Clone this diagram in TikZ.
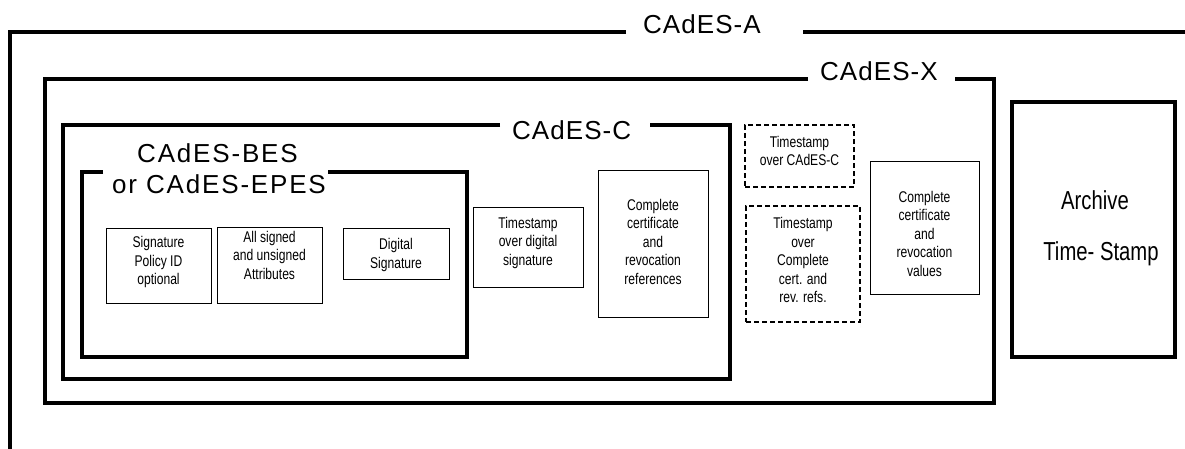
\documentclass[tikz,border=0pt]{standalone}
\usepackage{fontspec}
\setmainfont{Liberation Sans}
\newfontfamily\bigfont[LetterSpace=4]{Liberation Sans}
\newfontfamily\besfont[LetterSpace=7]{Liberation Sans}
\newfontfamily\narrowfont[FakeStretch=0.78]{Liberation Sans}
\begin{document}
\begin{tikzpicture}[x=1pt,y=-1pt,
  frame/.style={line width=3.3pt,line join=miter},
  besframe/.style={line width=4pt,line join=miter},
  biglabel/.style={anchor=base west,inner sep=0pt,font=\bigfont\fontsize{26}{30}\selectfont},
  beslabel/.style={anchor=base west,inner sep=0pt,font=\besfont\fontsize{26}{30}\selectfont},
  smallbox/.style={draw,line width=1pt,inner sep=0pt},
  dashbox/.style={draw,line width=2pt,dash pattern=on 5pt off 3pt,inner sep=0pt},
  smalltext/.style={align=center,inner sep=0pt,font=\narrowfont\fontsize{15.5}{18.5}\selectfont},
  archbox/.style={draw,line width=4pt,inner sep=0pt,line join=miter},
  archtext/.style={align=center,inner sep=0pt,font=\narrowfont\fontsize{26}{51}\selectfont}]
\useasboundingbox (0,0) rectangle (1185,448);

% CAdES-A frame
\coordinate (a1) at (626,32);
\coordinate (a2) at (10,32);
\coordinate (a3) at (10,450);
\coordinate (a4) at (803,32);
\coordinate (a5) at (1187,32);
\draw[frame] (a1) -- (a2) -- (a3);
\draw[frame] (a4) -- (a5);
\node[biglabel] (labA) at (643,33) {CAdES-A};

% CAdES-X frame
\coordinate (x1) at (808,79);
\coordinate (x2) at (45,79);
\coordinate (x3) at (45,403);
\coordinate (x4) at (994,403);
\coordinate (x5) at (994,79);
\coordinate (x6) at (955,79);
\draw[frame] (x1) -- (x2) -- (x3) -- (x4) -- (x5) -- (x6);
\node[biglabel] (labX) at (820,80) {CAdES-X};

% CAdES-C frame
\coordinate (c1) at (500,125);
\coordinate (c2) at (63,125);
\coordinate (c3) at (63,379);
\coordinate (c4) at (730,379);
\coordinate (c5) at (730,125);
\coordinate (c6) at (650,125);
\draw[frame] (c1) -- (c2) -- (c3) -- (c4) -- (c5) -- (c6);
\node[biglabel] (labC) at (512,139) {CAdES-C};

% CAdES-BES frame
\coordinate (b1) at (103,172);
\coordinate (b2) at (82,172);
\coordinate (b3) at (82,357);
\coordinate (b4) at (467,357);
\coordinate (b5) at (467,172);
\coordinate (b6) at (328,172);
\draw[besframe] (b1) -- (b2) -- (b3) -- (b4) -- (b5) -- (b6);
\node[beslabel] (labB1) at (137,162) {CAdES-BES};
\node[beslabel] (labB2) at (112,193) {or CAdES-EPES};

% small boxes
\node[smallbox,minimum width=105pt,minimum height=75pt] (sp) at (158.5,265.5) {};
\node[smalltext] (spt) at (158.5,262) {Signature\\Policy ID\\optional};

\node[smallbox,minimum width=105pt,minimum height=76pt] (as) at (269.5,265) {};
\node[smalltext] (ast) at (269.5,255) {All signed\\and unsigned\\Attributes};

\node[smallbox,minimum width=106pt,minimum height=51pt] (ds) at (396,253.5) {};
\node[smalltext] (dst) at (396,255) {Digital\\Signature};

\node[smallbox,minimum width=110pt,minimum height=80pt] (tds) at (528,247) {};
\node[smalltext] (tdst) at (528,242.5) {Timestamp\\over digital\\signature};

\node[smallbox,minimum width=110pt,minimum height=147pt] (ccr) at (653,243.5) {};
\node[smalltext] (ccrt) at (653,241.5) {Complete\\certificate\\and\\revocation\\references};

\node[dashbox,minimum width=109pt,minimum height=62pt] (ts1) at (799.5,156) {};
\node[smalltext] (ts1t) at (799.5,151) {Timestamp\\over CAdES-C};

\node[dashbox,minimum width=114pt,minimum height=116pt] (ts2) at (803,264) {};
\node[smalltext] (ts2t) at (803,260) {Timestamp\\over\\Complete\\cert. and\\rev. refs.};

\node[smallbox,minimum width=109pt,minimum height=133pt] (ccv) at (924.5,227.5) {};
\node[smalltext] (ccvt) at (924.5,233.5) {Complete\\certificate\\and\\revocation\\values};

% Archive time-stamp
\node[archbox,minimum width=163pt,minimum height=255pt] (arch) at (1093.5,229.5) {};
\node[archtext] (archt) at (1098,228) {Archive\hspace*{6pt}\\\hspace*{6pt}Time- Stamp};
\end{tikzpicture}
\end{document}
